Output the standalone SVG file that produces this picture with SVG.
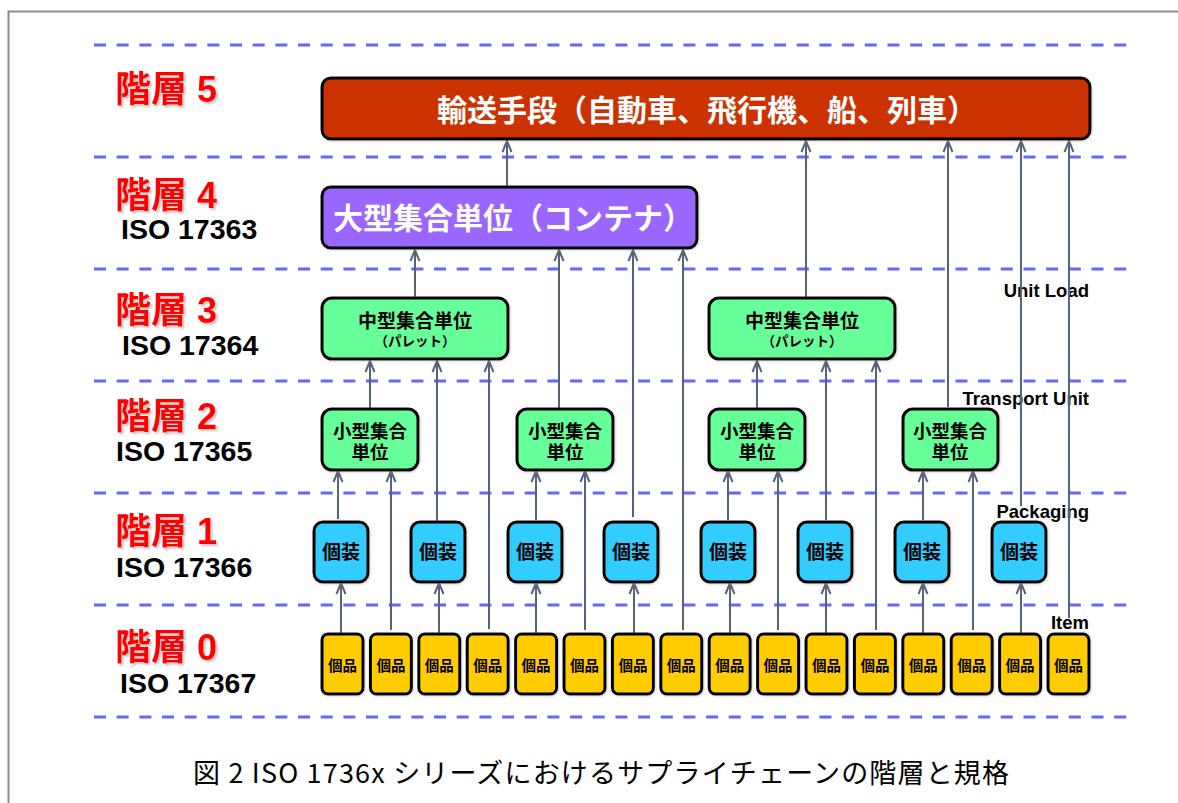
<svg xmlns="http://www.w3.org/2000/svg" width="1178" height="803" viewBox="0 0 1178 803">
<style>
text{text-spacing-trim:space-all}
.dash{stroke:#6666ff;stroke-width:3;stroke-dasharray:12 10.67;fill:none}
.lvl{font-family:"Liberation Sans","Noto Sans CJK JP",sans-serif;font-weight:bold;font-size:36px;fill:#ff0000}
.iso{font-family:"Liberation Sans",Arial,sans-serif;font-weight:bold;font-size:28.5px;fill:#000}
.en{font-family:"Liberation Sans",Arial,sans-serif;font-weight:bold;font-size:18.5px;fill:#000;text-anchor:end}
.box{stroke:#000;stroke-width:3}
.jw{font-family:"Noto Sans CJK JP","Liberation Sans",sans-serif;font-weight:bold;fill:#fff;text-anchor:middle}
.jb{font-family:"Noto Sans CJK JP","Liberation Sans",sans-serif;font-weight:bold;fill:#000;text-anchor:middle}
.c5{fill:#cc3300}.c4{fill:#9966ff}.c3{fill:#66ff99}.c1{fill:#33ccff}.c0{fill:#ffcc00}
.cn line{stroke:#566378;stroke-width:2;marker-end:url(#ah)}
.cap{font-family:"Noto Sans CJK JP","Liberation Sans",sans-serif;font-size:27px;fill:#000}
</style>
<defs>
<marker id="ah" viewBox="0 0 12 10" refX="11" refY="5" markerWidth="12" markerHeight="10" markerUnits="userSpaceOnUse" orient="auto" overflow="visible">
<path d="M0,0.5 L11,5 L0,9.5" fill="none" stroke="#566378" stroke-width="2"/>
</marker>
<filter id="sh" x="-10%" y="-10%" width="130%" height="140%">
<feDropShadow dx="2" dy="2" stdDeviation="1" flood-color="#888" flood-opacity="0.5"/>
</filter>
<filter id="bs" x="-10%" y="-10%" width="130%" height="130%">
<feDropShadow dx="1" dy="1" stdDeviation="1" flood-color="#999" flood-opacity="0.4"/>
</filter>
</defs>
<rect width="1178" height="803" fill="#fff"/>
<rect x="8.5" y="11.5" width="1200" height="900" fill="none" stroke="#8c8c8c" stroke-width="2"/>

<g id="dashed-lines">
<line class="dash" x1="94" y1="45" x2="1135" y2="45"/>
<line class="dash" x1="94" y1="157" x2="1135" y2="157"/>
<line class="dash" x1="94" y1="269" x2="1135" y2="269"/>
<line class="dash" x1="94" y1="381" x2="1135" y2="381"/>
<line class="dash" x1="94" y1="493" x2="1135" y2="493"/>
<line class="dash" x1="94" y1="605" x2="1135" y2="605"/>
<line class="dash" x1="94" y1="717" x2="1135" y2="717"/>
</g>

<g id="level-labels">
<text class="lvl" x="115" y="102" filter="url(#sh)">階層 5</text>
<text class="lvl" x="115" y="208" filter="url(#sh)">階層 4</text>
<text class="iso" x="121" y="239">ISO 17363</text>
<text class="lvl" x="115" y="323" filter="url(#sh)">階層 3</text>
<text class="iso" x="122" y="355">ISO 17364</text>
<text class="lvl" x="115" y="429" filter="url(#sh)">階層 2</text>
<text class="iso" x="116" y="461">ISO 17365</text>
<text class="lvl" x="115" y="544" filter="url(#sh)">階層 1</text>
<text class="iso" x="116" y="577">ISO 17366</text>
<text class="lvl" x="115" y="660" filter="url(#sh)">階層 0</text>
<text class="iso" x="120" y="693">ISO 17367</text>
</g>

<g id="side-labels">
<text class="en" x="1089" y="297">Unit Load</text>
<text class="en" x="1089" y="405">Transport Unit</text>
<text class="en" x="1089" y="518">Packaging</text>
<text class="en" x="1089" y="629">Item</text>
</g>

<g id="connectors" class="cn">
<line x1="341" y1="634" x2="341" y2="583"/>
<line x1="439" y1="634" x2="439" y2="583"/>
<line x1="536" y1="634" x2="536" y2="583"/>
<line x1="634" y1="634" x2="634" y2="583"/>
<line x1="730" y1="634" x2="730" y2="583"/>
<line x1="826" y1="634" x2="826" y2="583"/>
<line x1="923" y1="634" x2="923" y2="583"/>
<line x1="1021" y1="634" x2="1021" y2="583"/>
<line x1="391" y1="630" x2="391" y2="471"/>
<line x1="585" y1="630" x2="585" y2="471"/>
<line x1="778" y1="630" x2="778" y2="471"/>
<line x1="973" y1="630" x2="973" y2="471"/>
<line x1="338" y1="519" x2="338" y2="471"/>
<line x1="536" y1="520" x2="536" y2="471"/>
<line x1="728" y1="520" x2="728" y2="471"/>
<line x1="923" y1="520" x2="923" y2="471"/>
<line x1="370" y1="409" x2="370" y2="361"/>
<line x1="437" y1="521" x2="437" y2="361"/>
<line x1="489" y1="629" x2="489" y2="361"/>
<line x1="757" y1="409" x2="757" y2="361"/>
<line x1="826" y1="520" x2="826" y2="361"/>
<line x1="876" y1="630" x2="876" y2="361"/>
<line x1="415" y1="298" x2="415" y2="250"/>
<line x1="559" y1="409" x2="559" y2="250"/>
<line x1="633" y1="517" x2="633" y2="250"/>
<line x1="683" y1="630" x2="683" y2="250"/>
<line x1="507" y1="187" x2="507" y2="141"/>
<line x1="806" y1="298" x2="806" y2="141"/>
<line x1="948" y1="407" x2="948" y2="141"/>
<line x1="1021" y1="506" x2="1021" y2="141"/>
<line x1="1069" y1="618" x2="1069" y2="141"/>
</g>

<g id="n5"><rect class="box c5" x="322" y="78" width="768" height="61" rx="9" filter="url(#bs)"/><text class="jw" x="707" y="121" font-size="30">輸送手段（自動車、飛行機、船、列車）</text></g>
<g id="n4"><rect class="box c4" x="322" y="187" width="375" height="61" rx="9" filter="url(#bs)"/><text class="jw" x="513" y="229" font-size="30">大型集合単位（コンテナ）</text></g>

<g id="n3a"><rect class="box c3" x="322" y="298" width="186" height="61" rx="10" filter="url(#bs)"/><text class="jb" x="415" y="328" font-size="19">中型集合単位</text><text class="jb" x="415" y="346" font-size="13.5">（パレット）</text></g>
<g id="n3b"><rect class="box c3" x="709" y="298" width="186" height="61" rx="10" filter="url(#bs)"/><text class="jb" x="802" y="328" font-size="19">中型集合単位</text><text class="jb" x="802" y="346" font-size="13.5">（パレット）</text></g>

<g id="n2a"><rect class="box c3" x="322" y="409" width="96" height="61" rx="10" filter="url(#bs)"/><text class="jb" x="370" y="438" font-size="18.5">小型集合</text><text class="jb" x="370" y="459" font-size="18.5">単位</text></g>
<g id="n2b"><rect class="box c3" x="517" y="409" width="96" height="61" rx="10" filter="url(#bs)"/><text class="jb" x="565" y="438" font-size="18.5">小型集合</text><text class="jb" x="565" y="459" font-size="18.5">単位</text></g>
<g id="n2c"><rect class="box c3" x="709" y="409" width="96" height="61" rx="10" filter="url(#bs)"/><text class="jb" x="757" y="438" font-size="18.5">小型集合</text><text class="jb" x="757" y="459" font-size="18.5">単位</text></g>
<g id="n2d"><rect class="box c3" x="903" y="409" width="95" height="61" rx="10" filter="url(#bs)"/><text class="jb" x="950" y="438" font-size="18.5">小型集合</text><text class="jb" x="950" y="459" font-size="18.5">単位</text></g>

<g id="n1a"><rect class="box c1" x="314" y="522" width="54" height="60" rx="9" filter="url(#bs)"/><text class="jb" x="341" y="559" font-size="19">個装</text></g>
<g id="n1b"><rect class="box c1" x="411" y="522" width="54" height="60" rx="9" filter="url(#bs)"/><text class="jb" x="438" y="559" font-size="19">個装</text></g>
<g id="n1c"><rect class="box c1" x="508" y="522" width="54" height="60" rx="9" filter="url(#bs)"/><text class="jb" x="535" y="559" font-size="19">個装</text></g>
<g id="n1d"><rect class="box c1" x="604" y="522" width="54" height="60" rx="9" filter="url(#bs)"/><text class="jb" x="631" y="559" font-size="19">個装</text></g>
<g id="n1e"><rect class="box c1" x="701" y="522" width="54" height="60" rx="9" filter="url(#bs)"/><text class="jb" x="728" y="559" font-size="19">個装</text></g>
<g id="n1f"><rect class="box c1" x="798" y="522" width="54" height="60" rx="9" filter="url(#bs)"/><text class="jb" x="825" y="559" font-size="19">個装</text></g>
<g id="n1g"><rect class="box c1" x="895" y="522" width="54" height="60" rx="9" filter="url(#bs)"/><text class="jb" x="922" y="559" font-size="19">個装</text></g>
<g id="n1h"><rect class="box c1" x="992" y="522" width="54" height="60" rx="9" filter="url(#bs)"/><text class="jb" x="1019" y="559" font-size="19">個装</text></g>

<g id="n0a"><rect class="box c0" x="322" y="634" width="41" height="60" rx="6" filter="url(#bs)"/><text class="jb" x="342.5" y="671" font-size="14.5">個品</text></g>
<g id="n0b"><rect class="box c0" x="370.4" y="634" width="41" height="60" rx="6" filter="url(#bs)"/><text class="jb" x="390.9" y="671" font-size="14.5">個品</text></g>
<g id="n0c"><rect class="box c0" x="418.8" y="634" width="41" height="60" rx="6" filter="url(#bs)"/><text class="jb" x="439.3" y="671" font-size="14.5">個品</text></g>
<g id="n0d"><rect class="box c0" x="467.2" y="634" width="41" height="60" rx="6" filter="url(#bs)"/><text class="jb" x="487.7" y="671" font-size="14.5">個品</text></g>
<g id="n0e"><rect class="box c0" x="515.6" y="634" width="41" height="60" rx="6" filter="url(#bs)"/><text class="jb" x="536.1" y="671" font-size="14.5">個品</text></g>
<g id="n0f"><rect class="box c0" x="564" y="634" width="41" height="60" rx="6" filter="url(#bs)"/><text class="jb" x="584.5" y="671" font-size="14.5">個品</text></g>
<g id="n0g"><rect class="box c0" x="612.4" y="634" width="41" height="60" rx="6" filter="url(#bs)"/><text class="jb" x="632.9" y="671" font-size="14.5">個品</text></g>
<g id="n0h"><rect class="box c0" x="660.8" y="634" width="41" height="60" rx="6" filter="url(#bs)"/><text class="jb" x="681.3" y="671" font-size="14.5">個品</text></g>
<g id="n0i"><rect class="box c0" x="709.2" y="634" width="41" height="60" rx="6" filter="url(#bs)"/><text class="jb" x="729.7" y="671" font-size="14.5">個品</text></g>
<g id="n0j"><rect class="box c0" x="757.6" y="634" width="41" height="60" rx="6" filter="url(#bs)"/><text class="jb" x="778.1" y="671" font-size="14.5">個品</text></g>
<g id="n0k"><rect class="box c0" x="806" y="634" width="41" height="60" rx="6" filter="url(#bs)"/><text class="jb" x="826.5" y="671" font-size="14.5">個品</text></g>
<g id="n0l"><rect class="box c0" x="854.4" y="634" width="41" height="60" rx="6" filter="url(#bs)"/><text class="jb" x="874.9" y="671" font-size="14.5">個品</text></g>
<g id="n0m"><rect class="box c0" x="902.8" y="634" width="41" height="60" rx="6" filter="url(#bs)"/><text class="jb" x="923.3" y="671" font-size="14.5">個品</text></g>
<g id="n0n"><rect class="box c0" x="951.2" y="634" width="41" height="60" rx="6" filter="url(#bs)"/><text class="jb" x="971.7" y="671" font-size="14.5">個品</text></g>
<g id="n0o"><rect class="box c0" x="999.6" y="634" width="41" height="60" rx="6" filter="url(#bs)"/><text class="jb" x="1020.1" y="671" font-size="14.5">個品</text></g>
<g id="n0p"><rect class="box c0" x="1048" y="634" width="41" height="60" rx="6" filter="url(#bs)"/><text class="jb" x="1068.5" y="671" font-size="14.5">個品</text></g>

<text class="cap" x="193" y="783" textLength="816" lengthAdjust="spacing">図 2 ISO 1736x シリーズにおけるサプライチェーンの階層と規格</text>
</svg>
